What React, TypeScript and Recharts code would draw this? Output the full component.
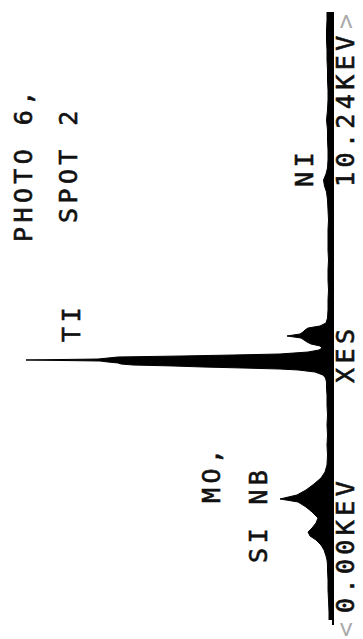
import { Area, AreaChart, XAxis, YAxis } from "recharts";

// energy in keV (0.00 at bottom, 10.24 at top)
const energies = [
  0.084, 0.217, 0.418, 0.585, 0.752, 0.919, 1.002, 1.086, 1.153, 1.253, 1.336,
  1.42, 1.487, 1.554, 1.62, 1.704, 1.787, 1.888, 1.971, 2.055, 2.105, 2.172,
  2.255, 2.355, 2.456, 2.556, 2.673, 2.84, 3.007, 3.174, 3.341, 3.508, 3.675,
  3.842, 3.959, 4.059, 4.126, 4.176, 4.226, 4.26, 4.276, 4.293, 4.31, 4.327,
  4.343, 4.36, 4.377, 4.393, 4.41, 4.427, 4.443, 4.46, 4.477, 4.494, 4.51,
  4.527, 4.56, 4.594, 4.627, 4.661, 4.694, 4.727, 4.761, 4.794, 4.828, 4.861,
  4.894, 4.928, 4.961, 4.995, 5.045, 5.128, 5.262, 5.429, 5.596, 5.763, 5.93,
  6.097, 6.264, 6.431, 6.598, 6.765, 6.933, 7.1, 7.233, 7.333, 7.434, 7.534,
  7.634, 7.768, 7.935, 8.102, 8.269, 8.436, 8.603, 8.77, 8.937, 9.104, 9.271,
  9.438, 9.605, 9.772, 9.939, 10.106, 10.24,
];

const counts = [
  40, 40, 45, 50, 50, 55, 55, 60, 70, 90, 120,
  170, 230, 250, 210, 170, 150, 210, 270, 350, 530, 360,
  270, 190, 120, 80, 60, 55, 60, 55, 60, 55, 60,
  60, 65, 65, 75, 100, 180, 350, 530, 900, 1300, 1600,
  2000, 2120, 2150, 2250, 2330, 3070, 2350, 2250, 2150, 1500, 1000,
  530, 250, 140, 110, 130, 220, 260, 290, 320, 460, 330,
  300, 280, 250, 130, 70, 55, 50, 50, 45, 50, 50,
  45, 50, 50, 50, 45, 50, 55, 65, 85, 95, 70,
  55, 50, 50, 55, 55, 65, 55, 50, 50, 55, 55,
  60, 60, 65, 65, 60, 60,
];

const title = ["PHOTO 6,", "SPOT 2"];
const elements = ["TI", "NI", "MO,", "SI NB"];
const axisText = ["0.00KEV", "XES", "10.24KEV"];

const data = energies.map((e, i) => ({ e, c: counts[i] }));

const txt = {
  fontFamily: "'DejaVu Sans Mono', monospace",
  fontWeight: 400,
  fontSize: 25,
  letterSpacing: 4.4,
  fill: "#111",
  stroke: "#111",
  strokeWidth: 0.6,
};

export default function App() {
  return (
    <div
      style={{
        position: "fixed",
        left: 0,
        top: 0,
        width: 363,
        height: 639,
        overflow: "hidden",
        background: "#fff",
      }}
    >
      <div
        style={{
          position: "absolute",
          left: 0,
          top: 0,
          width: 639,
          height: 363,
          transform: "rotate(-90deg) translateX(-100%)",
          transformOrigin: "0 0",
        }}
      >
        <AreaChart
          width={639}
          height={363}
          data={data}
          margin={{ top: 3, right: 12, bottom: 0, left: 14 }}
        >
          <XAxis
            dataKey="e"
            type="number"
            domain={[0, 10.24]}
            tick={false}
            tickLine={false}
            height={30}
            axisLine={{ stroke: "#000", strokeWidth: 2 }}
          />
          <YAxis hide domain={[0, 3300]} />
          <Area
            type="linear"
            dataKey="c"
            stroke="#000"
            strokeWidth={1}
            fill="#000"
            fillOpacity={1}
            isAnimationActive={false}
            dot={false}
            activeDot={false}
          />
        </AreaChart>
        <svg
          width={639}
          height={363}
          style={{ position: "absolute", left: 0, top: 0 }}
        >
          <text x={397} y={32} style={txt}>{title[0]}</text>
          <text x={416} y={77} style={txt}>{title[1]}</text>
          <text x={297} y={80} style={txt}>{elements[0]}</text>
          <text x={452} y={313} style={txt}>{elements[1]}</text>
          <text x={136} y={220} style={txt}>{elements[2]}</text>
          <text x={76} y={267} style={txt}>{elements[3]}</text>
          <text x={26} y={354} style={txt}>{axisText[0]}</text>
          <text x={256} y={354} style={txt}>{axisText[1]}</text>
          <text x={452} y={354} style={txt}>{axisText[2]}</text>
          <text x={2} y={354} style={{ ...txt, fill: "#aaa", stroke: "none" }}>{"<"}</text>
          <text x={610} y={354} style={{ ...txt, fill: "#aaa", stroke: "none" }}>{">"}</text>
        </svg>
      </div>
    </div>
  );
}
